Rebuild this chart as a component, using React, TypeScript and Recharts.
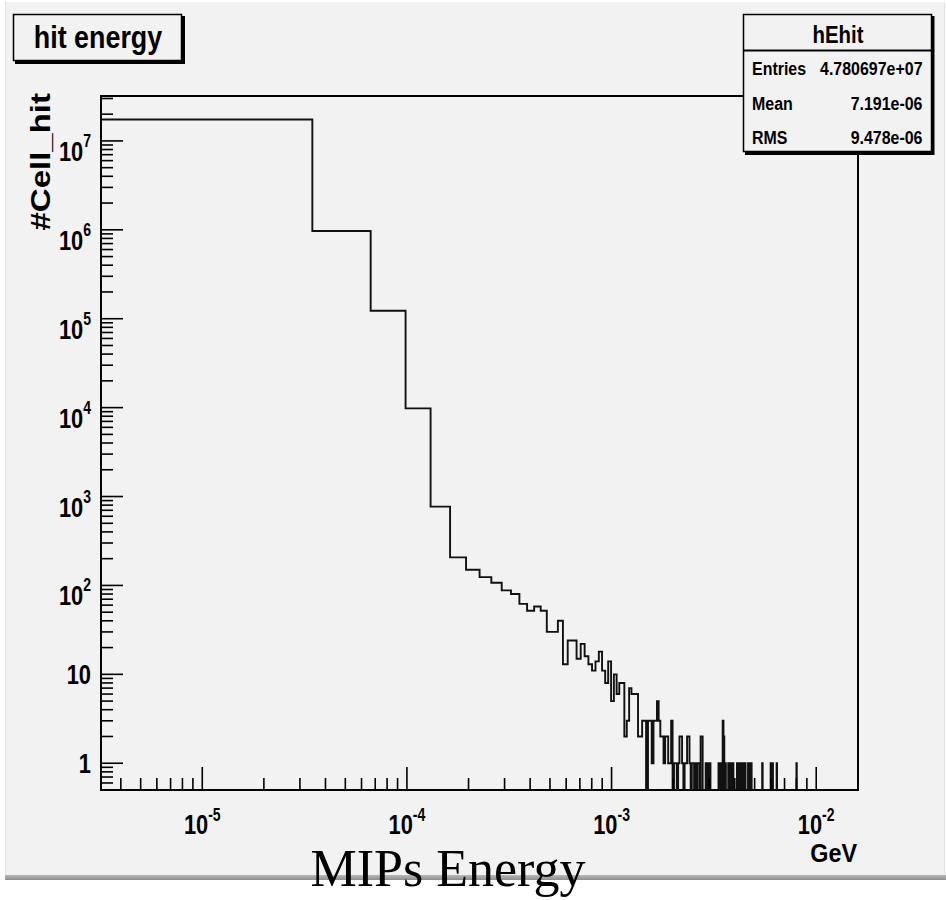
import { ComposedChart, Line, ReferenceArea, XAxis, YAxis } from "recharts";

// histogram hEhit: 500 bins of 3.2e-5 GeV starting at 2.5e-6 GeV
const HIST_LOW = 2.5e-6;
const BIN_WIDTH = 3.2e-5;
const N_BINS = 500;
const X_MIN = 3.2e-6;
const X_MAX = 0.016;
const Y_MIN = 0.5;
const Y_MAX = 3.2e7;

// counts of bins 0..89
const lowBinCounts = [
  17400000, 970000, 123000, 9800, 770, 207, 150, 124, 107, 88,
  80, 62, 52, 58, 52, 30, 30, 40, 13, 24,
  24, 15, 22, 16, 13, 11, 14, 18, 11, 8,
  14, 5, 10, 6, 8, 8, 2, 3, 7, 6,
  6, 6, 2, 2, 3, 3, 0, 3, 3, 1,
  3, 3, 5, 3, 2, 2, 1, 2, 2, 1,
  1, 3, 0, 1, 1, 0, 1, 2, 2, 1,
  0, 1, 1, 2, 2, 1, 0, 1, 1, 0,
  1, 0, 1, 1, 0, 2, 2, 0, 0, 0,
];

// sparse tail above bin 89: bin index and count
const tailBins = [
  90, 92, 94, 104, 106, 107, 109, 110, 112, 116, 118, 119, 121, 122, 128, 129,
  131, 133, 134, 136, 137, 139, 140, 145, 147, 148, 150, 170, 187, 191, 200, 250,
];
const tailCounts = [
  1, 1, 1, 1, 1, 1, 3, 2, 1, 1, 1, 1, 1, 1, 1, 1,
  1, 1, 1, 1, 1, 1, 1, 1, 1, 1, 1, 1, 1, 1, 1, 1,
];

const xDecades = [1e-6, 1e-5, 1e-4, 1e-3, 1e-2];
const yDecades = [0.1, 1, 10, 100, 1e3, 1e4, 1e5, 1e6, 1e7];
const logSteps = [1, 2, 3, 4, 5, 6, 7, 8, 9];

const statsTitle = "hEhit";
const statsNames = ["Entries", "Mean", "RMS"];
const statsValues = ["4.780697e+07", "7.191e-06", "9.478e-06"];

const BG = "#f2f2f2";
const SANS = "'Liberation Sans', Arial, Helvetica, sans-serif";
const ZERO_FLOOR = 0.05; // empty bins drop below the frame and get clipped

const counts = Array.from({ length: N_BINS }, (_, i) => (i < lowBinCounts.length ? lowBinCounts[i] : 0));
tailBins.forEach((b, j) => {
  counts[b] = tailCounts[j];
});
const data = counts.map((n, i) => ({
  e: i === 0 ? X_MIN : HIST_LOW + i * BIN_WIDTH,
  n: n > 0 ? n : ZERO_FLOOR,
}));
data.push({ e: X_MAX, n: ZERO_FLOOR });

const buildTicks = (decades: number[], lo: number, hi: number) =>
  decades.flatMap((d) => logSteps.map((m) => m * d)).filter((v) => v >= lo * 0.9999 && v <= hi * 1.0001);

const xTicks = buildTicks(xDecades, X_MIN, X_MAX);
const yTicks = buildTicks(yDecades, Y_MIN, Y_MAX);

const decadeExp = (v: number) => {
  const k = Math.log10(v);
  return Math.abs(k - Math.round(k)) < 1e-6 ? Math.round(k) : null;
};

function YTick(props: any) {
  const { x, y, payload } = props;
  const k = decadeExp(payload.value);
  const major = k !== null;
  let label = null;
  if (major && k <= 1) {
    label = (
      <text transform={`translate(${x - 10} ${y + 10}) scale(0.78 1)`} textAnchor="end" fontFamily={SANS} fontWeight="bold" fontSize={28} fill="#000">
        {k === 0 ? "1" : "10"}
      </text>
    );
  } else if (major) {
    label = (
      <text transform={`translate(${x - 10} ${y + 20}) scale(0.78 1)`} textAnchor="end" fontFamily={SANS} fontWeight="bold" fontSize={28} fill="#000">
        10
        <tspan dy={-14} fontSize={18}>
          {k}
        </tspan>
      </text>
    );
  }
  return (
    <g>
      <line x1={x} x2={x + (major ? 22 : 12)} y1={y} y2={y} stroke="#000" strokeWidth={1.6} />
      {label}
    </g>
  );
}

function XTick(props: any) {
  const { x, y, payload } = props;
  const k = decadeExp(payload.value);
  const major = k !== null;
  return (
    <g>
      <line x1={x} x2={x} y1={y} y2={y - (major ? 23 : 12)} stroke="#000" strokeWidth={1.6} />
      {major && (
        <text transform={`translate(${x} ${y + 44}) scale(0.78 1)`} textAnchor="middle" fontFamily={SANS} fontWeight="bold" fontSize={28} fill="#000">
          10
          <tspan dy={-13} fontSize={18}>
            {k}
          </tspan>
        </text>
      )}
    </g>
  );
}

export default function App() {
  return (
    <div style={{ position: "absolute", left: 0, top: 0, width: 946, height: 900, background: "#fff", overflow: "hidden" }}>
      <div style={{ position: "absolute", left: 5, top: 2, width: 938, height: 874, background: BG, borderLeft: "1px solid #e2e2e2", borderRight: "1px solid #e2e2e2" }} />
      <div style={{ position: "absolute", left: 5, top: 875, width: 941, height: 5, background: "linear-gradient(#b8b8b8, #8e8e8e)" }} />
      <div style={{ position: "absolute", left: 0, top: 0 }}>
        <ComposedChart width={946} height={900} data={data} margin={{ top: 96, right: 88, bottom: 0, left: 0 }}>
          <XAxis
            dataKey="e"
            type="number"
            scale="log"
            domain={[X_MIN, X_MAX]}
            allowDataOverflow
            ticks={xTicks}
            interval={0}
            tick={<XTick />}
            tickLine={false}
            axisLine={false}
            tickSize={0}
            tickMargin={0}
            height={110}
          />
          <YAxis
            type="number"
            scale="log"
            domain={[Y_MIN, Y_MAX]}
            allowDataOverflow
            ticks={yTicks}
            interval={0}
            tick={<YTick />}
            tickLine={false}
            axisLine={false}
            tickSize={0}
            tickMargin={0}
            width={101}
          />
          <ReferenceArea x1={X_MIN} x2={X_MAX} y1={Y_MIN} y2={Y_MAX} fill="none" fillOpacity={0} stroke="#000" strokeWidth={2} ifOverflow="visible" />
          <Line dataKey="n" type="stepAfter" stroke="#111" strokeWidth={1.9} dot={false} activeDot={false} isAnimationActive={false} />
        </ComposedChart>
      </div>
      <svg width={946} height={900} style={{ position: "absolute", left: 0, top: 0, pointerEvents: "none" }}>
        {/* title pave */}
        <rect x={15} y={16} width={170} height={48} fill="#000" />
        <rect x={13.5} y={14.5} width={168} height={46} fill={BG} stroke="#000" strokeWidth={1.5} />
        <text transform="translate(98 48) scale(0.84 1)" textAnchor="middle" fontFamily={SANS} fontWeight="bold" fontSize={32} fill="#000">
          hit energy
        </text>

        {/* stats box */}
        <rect x={745} y={16} width={189.5} height={139} fill="#000" />
        <rect x={743.5} y={14.5} width={188} height={137} fill={BG} stroke="#000" strokeWidth={1.5} />
        <line x1={743.5} x2={931.5} y1={50.5} y2={50.5} stroke="#000" strokeWidth={2} />
        <text transform="translate(838 43) scale(0.85 1)" textAnchor="middle" fontFamily={SANS} fontWeight="bold" fontSize={24} fill="#000">
          {statsTitle}
        </text>
        {statsNames.map((name, i) => (
          <g key={name}>
            <text transform={`translate(752 ${75 + i * 34.5}) scale(0.84 1)`} fontFamily={SANS} fontWeight="bold" fontSize={19} fill="#000">
              {name}
            </text>
            <text transform={`translate(922.5 ${75 + i * 34.5}) scale(0.84 1)`} textAnchor="end" fontFamily={SANS} fontWeight="bold" fontSize={19} fill="#000">
              {statsValues[i]}
            </text>
          </g>
        ))}

        {/* axis titles */}
        <text transform="translate(50 93) rotate(-90) scale(1 0.84)" textAnchor="end" fontFamily={SANS} fontWeight="bold" fontSize={33} fill="#000">
          #Cell_hit
        </text>
        <text transform="translate(857 862) scale(0.9 1)" textAnchor="end" fontFamily={SANS} fontWeight="bold" fontSize={26} fill="#000">
          GeV
        </text>
        <text x={448} y={886} textAnchor="middle" fontFamily="'Liberation Serif', 'Times New Roman', serif" fontSize={52} fill="#000">
          MIPs Energy
        </text>
      </svg>
    </div>
  );
}
